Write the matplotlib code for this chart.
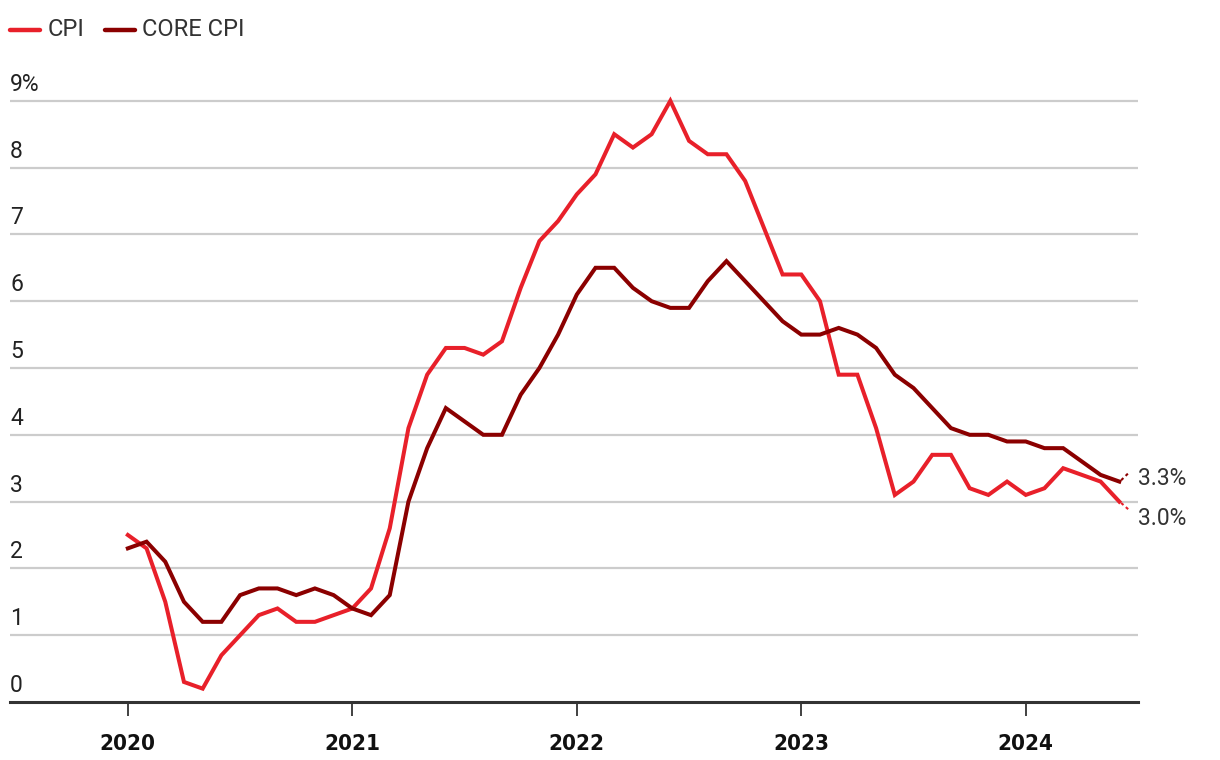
import matplotlib
matplotlib.use("Agg")
import matplotlib.pyplot as plt
from matplotlib.lines import Line2D
import matplotlib.transforms as mtransforms

# ---- data (monthly, Jan 2020 .. Jun 2024, year-over-year %) ----
cpi = [2.5, 2.3, 1.5, 0.3, 0.2, 0.7, 1.0, 1.3, 1.4, 1.2, 1.2, 1.3,   # 2020
       1.4, 1.7, 2.6, 4.1, 4.9, 5.3, 5.3, 5.2, 5.4, 6.2, 6.9, 7.2,   # 2021
       7.6, 7.9, 8.5, 8.3, 8.5, 9.0, 8.4, 8.2, 8.2, 7.8, 7.1, 6.4,   # 2022
       6.4, 6.0, 4.9, 4.9, 4.1, 3.1, 3.3, 3.7, 3.7, 3.2, 3.1, 3.3,   # 2023
       3.1, 3.2, 3.5, 3.4, 3.3, 3.0]                                 # 2024
core = [2.3, 2.4, 2.1, 1.5, 1.2, 1.2, 1.6, 1.7, 1.7, 1.6, 1.7, 1.6,
        1.4, 1.3, 1.6, 3.0, 3.8, 4.4, 4.2, 4.0, 4.0, 4.6, 5.0, 5.5,
        6.1, 6.5, 6.5, 6.2, 6.0, 5.9, 5.9, 6.3, 6.6, 6.3, 6.0, 5.7,
        5.5, 5.5, 5.6, 5.5, 5.3, 4.9, 4.7, 4.4, 4.1, 4.0, 4.0, 3.9,
        3.9, 3.8, 3.8, 3.6, 3.4, 3.3]
years = ["2020", "2021", "2022", "2023", "2024"]
y_ticks = [0, 1, 2, 3, 4, 5, 6, 7, 8, 9]
series_names = ["CPI", "CORE CPI"]
end_labels = ["3.0%", "3.3%"]

CPI_COLOR = "#E8202A"
CORE_COLOR = "#8B0000"
TXT = "#222222"

W, H = 1220, 760
fig = plt.figure(figsize=(W / 100, H / 100), dpi=100)

# axes placement in pixels
x0_px, x1_px = 10, 1138
y0_px = 702          # data 0
ppu = 66.8           # pixels per percentage point
ytop = 9.3
ytop_px = y0_px - ytop * ppu
ax = fig.add_axes([x0_px / W, (H - y0_px) / H, (x1_px - x0_px) / W, (y0_px - ytop_px) / H])

months = list(range(len(cpi)))
ax.plot(months, cpi, color=CPI_COLOR, lw=2.9, solid_joinstyle="miter", clip_on=False, zorder=3)
ax.plot(months, core, color=CORE_COLOR, lw=2.9, solid_joinstyle="miter", clip_on=False, zorder=3)

ax.set_xlim(-6.3, 54.0)
ax.set_ylim(0, ytop)

# gridlines
for v in y_ticks[1:]:
    ax.axhline(v, color="#cccccc", lw=1.6, zorder=1)

# y labels above gridlines
offset = mtransforms.ScaledTranslation(0, 5 / 100, fig.dpi_scale_trans)
for v in y_ticks:
    lab = f"{v}%" if v == 9 else str(v)
    ax.text(0, v, lab, transform=mtransforms.blended_transform_factory(ax.transAxes, ax.transData) + offset,
            ha="left", va="bottom", fontsize=16.5, family="Roboto", color=TXT)

# spines
for s in ["left", "right", "top"]:
    ax.spines[s].set_visible(False)
ax.spines["bottom"].set_color("#333333")
ax.spines["bottom"].set_linewidth(2.2)
ax.set_yticks([])
ax.set_xticks([12 * i for i in range(len(years))])
ax.set_xticklabels(years)
for t in ax.get_xticklabels():
    t.set_fontsize(16)
    t.set_fontweight("bold")
    t.set_family(["DejaVu Sans"])
    t.set_fontstretch("condensed")
    t.set_color("#111111")
ax.tick_params(axis="x", length=10, width=1.3, color="#333333", pad=13)

# end connectors and labels
last = len(cpi) - 1
ax.plot([last + 0.1, last + 0.5], [cpi[-1] - 0.02, cpi[-1] - 0.12], color=CPI_COLOR, lw=1.5,
        ls=(0, (1.5, 1.5)), clip_on=False)
ax.plot([last + 0.1, last + 0.5], [core[-1] + 0.02, core[-1] + 0.13], color=CORE_COLOR, lw=1.5,
        ls=(0, (1.5, 1.5)), clip_on=False)
ax.text(last + 1.0, cpi[-1] - 0.25, end_labels[0], ha="left", va="center", fontsize=16.5,
        family="Roboto", color="#333333", clip_on=False)
ax.text(last + 1.0, core[-1] + 0.05, end_labels[1], ha="left", va="center", fontsize=16.5,
        family="Roboto", color="#333333", clip_on=False)

# legend (manual, top-left)
def fx(px):
    return px / W

def fy(py):
    return (H - py) / H

fig.add_artist(Line2D([fx(10), fx(40)], [fy(30), fy(30)], color=CPI_COLOR, lw=3.2,
                      solid_capstyle="round"))
fig.text(fx(48), fy(30), series_names[0], ha="left", va="center", fontsize=17, family="Roboto", color="#333333")
fig.add_artist(Line2D([fx(105), fx(135)], [fy(30), fy(30)], color=CORE_COLOR, lw=3.2,
                      solid_capstyle="round"))
fig.text(fx(142), fy(30), series_names[1], ha="left", va="center", fontsize=17, family="Roboto", color="#333333")

fig.savefig("out.png", dpi=100)
